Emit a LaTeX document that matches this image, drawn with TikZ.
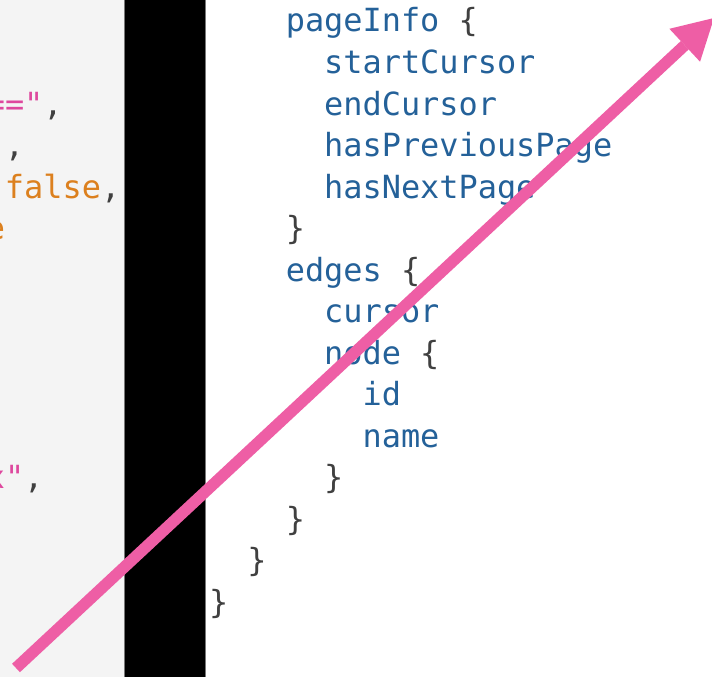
\documentclass[tikz,border=0pt]{standalone}
\usepackage{fontspec}
\setmonofont{DejaVu Sans Mono}
\usetikzlibrary{arrows.meta}
\definecolor{kwblue}{RGB}{36,97,153}
\definecolor{brgray}{RGB}{64,64,64}
\definecolor{strpink}{RGB}{222,72,158}
\definecolor{boolorange}{RGB}{220,128,30}
\definecolor{arrowpink}{RGB}{238,94,165}
\definecolor{panelgray}{RGB}{244,244,244}
\definecolor{sepgray}{RGB}{120,120,120}
\tikzset{
  code/.style={anchor=base west, inner sep=0pt, outer sep=0pt,
    font=\ttfamily\fontsize{31.9}{41.5}\selectfont},
  fld/.style={code, text=kwblue},
  brc/.style={code, text=brgray},
  strg/.style={code, text=strpink},
  bool/.style={code, text=boolorange},
  bigarrow/.style={draw=arrowpink, line width=11.5pt,
    -{Triangle[length=40pt, width=45pt, line width'=0pt]}},
}
% right panel grid: column c, row r
\newcommand{\rcode}[5]{\node[#1] (#2) at ({209+19.2*(#3)}, {32+41.5*(#4)}) {#5};}
% left panel grid
\newcommand{\lcode}[5]{\node[#1] (#2) at ({5+19.2*(#3)}, {32+41.5*(#4)}) {#5};}
\begin{document}
\begin{tikzpicture}[x=1pt, y=-1pt]
\useasboundingbox (0,0) rectangle (712,677);
\clip (0,0) rectangle (712,677);
% panels
\fill[white] (0,0) rectangle (712,677);
\fill[panelgray] (0,0) rectangle (124,677);
\fill[black] (124,0) rectangle (206,677);
\draw[sepgray, line width=1pt] (124.5,0) -- (124.5,677);
\draw[sepgray, line width=1pt] (205.5,0) -- (205.5,677);
% left panel (truncated code)
\lcode{strg}{l2a}{-1}{2}{=="}
\lcode{brc}{l2b}{2}{2}{,}
\lcode{strg}{l3a}{-1}{3}{"}
\lcode{brc}{l3b}{0}{3}{,}
\lcode{bool}{l4a}{0}{4}{false}
\lcode{brc}{l4b}{5}{4}{,}
\lcode{bool}{l5a}{-1}{5}{e}
\lcode{strg}{l11a}{-1}{11}{x"}
\lcode{brc}{l11b}{1}{11}{,}
% right panel (query)
\rcode{fld}{r0a}{4}{0}{pageInfo}
\rcode{brc}{r0b}{13}{0}{\{}
\rcode{fld}{r1}{6}{1}{startCursor}
\rcode{fld}{r2}{6}{2}{endCursor}
\rcode{fld}{r3}{6}{3}{hasPreviousPage}
\rcode{fld}{r4}{6}{4}{hasNextPage}
\rcode{brc}{r5}{4}{5}{\}}
\rcode{fld}{r6a}{4}{6}{edges}
\rcode{brc}{r6b}{10}{6}{\{}
\rcode{fld}{r7}{6}{7}{cursor}
\rcode{fld}{r8a}{6}{8}{node}
\rcode{brc}{r8b}{11}{8}{\{}
\rcode{fld}{r9}{8}{9}{id}
\rcode{fld}{r10}{8}{10}{name}
\rcode{brc}{r11}{6}{11}{\}}
\rcode{brc}{r12}{4}{12}{\}}
\rcode{brc}{r13}{2}{13}{\}}
\rcode{brc}{r14}{0}{14}{\}}
% arrow
\coordinate (tail) at (16,668);
\coordinate (tip) at (714,18);
\draw[bigarrow] (tail) -- (tip);
\end{tikzpicture}
\end{document}
